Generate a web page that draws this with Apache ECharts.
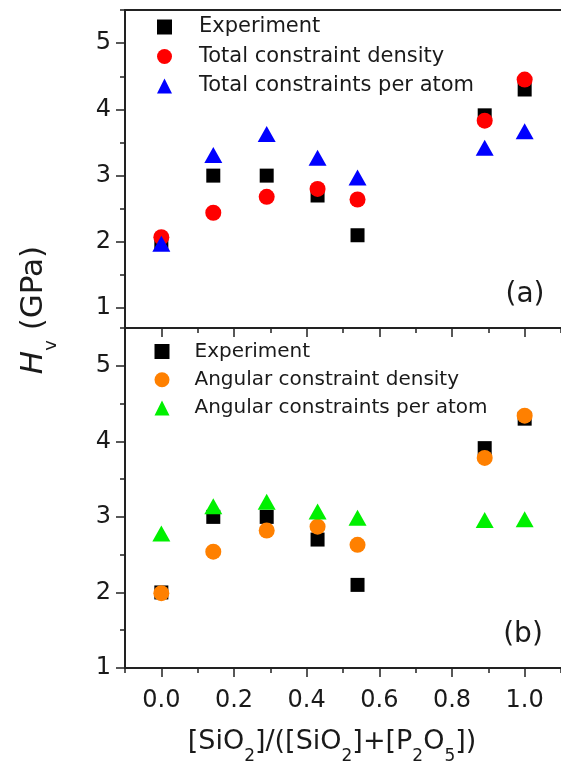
<!DOCTYPE html>
<html lang="en">
<head>
    <meta charset="utf-8">
    <meta name="viewport" content="width=device-width, initial-scale=1"/>
</head>
<body style="margin:0;">
<div id="chart" style="width:561px; height:763px;"></div>
<script type="text/javascript" src="https://cdn.jsdelivr.net/npm/echarts@6/dist/echarts.min.js"></script>
<script type="text/javascript">

    // composition [SiO2]/([SiO2]+[P2O5])
    var xVals = [0, 0.143, 0.29, 0.43, 0.54, 0.89, 1.0];
    // hardness Hv (GPa)
    var experiment = [2.0, 3.0, 3.0, 2.7, 2.1, 3.91, 4.3];
    var totalDensity = [2.07, 2.44, 2.68, 2.8, 2.64, 3.83, 4.45];
    var totalPerAtom = [1.97, 3.31, 3.63, 3.27, 2.97, 3.42, 3.67];
    var angularDensity = [1.99, 2.54, 2.82, 2.87, 2.63, 3.78, 4.34];
    var angularPerAtom = [2.78, 3.14, 3.2, 3.07, 2.99, 2.96, 2.97];

    // major tick values
    var xTickVals = [0, 0.2, 0.4, 0.6, 0.8, 1.0];
    var yTickVals = [1, 2, 3, 4, 5];

    var legendA = ['Experiment', 'Total constraint density', 'Total constraints per atom'];
    var legendB = ['Experiment ', 'Angular constraint density', 'Angular constraints per atom'];

    var FONT = 'DejaVu Sans';
    var INK = '#1a1a1a';

    function pairs(ys) {
        return xVals.map(function (x, i) { return [x, ys[i]]; });
    }

    function tick(len, values) {
        var t = {show: true, length: len, lineStyle: {color: '#222', width: 1.5}};
        if (values) t.customValues = values;
        return t;
    }
    function axLine() {
        return {show: true, onZero: false, lineStyle: {color: '#222', width: 2}};
    }

    // axes that draw the frame line, labels and major ticks
    function xMain(grid, showLabel) {
        return {
            type: 'value', gridIndex: grid, min: -0.1, max: 1.1,
            axisLine: axLine(), axisTick: tick(9, xTickVals),
            axisLabel: {
                show: showLabel, margin: 21, fontSize: 24, fontFamily: FONT, color: INK,
                customValues: xTickVals,
                formatter: function (v) { return v.toFixed(1); }
            },
            splitLine: {show: false}
        };
    }
    function yMain(grid, min) {
        return {
            type: 'value', gridIndex: grid, min: min, max: 5.5,
            axisLine: axLine(), axisTick: tick(9, yTickVals),
            axisLabel: {
                margin: 14, fontSize: 24, fontFamily: FONT, color: INK,
                customValues: yTickVals,
                formatter: function (v) { return String(v); }
            },
            splitLine: {show: false}
        };
    }
    // axes that only carry the minor ticks
    function xTicks(grid) {
        return {
            type: 'value', gridIndex: grid, min: -0.1, max: 1.1, splitNumber: 12,
            axisLine: {show: false, onZero: false}, axisTick: tick(5),
            axisLabel: {show: false}, splitLine: {show: false}
        };
    }
    function yTicks(grid, min, split) {
        return {
            type: 'value', gridIndex: grid, min: min, max: 5.5, splitNumber: split,
            axisLine: {show: false, onZero: false}, axisTick: tick(5),
            axisLabel: {show: false}, splitLine: {show: false}
        };
    }

    function scatter(name, ys, xi, yi, symbol, size, color) {
        return {
            name: name, type: 'scatter', xAxisIndex: xi, yAxisIndex: yi,
            symbol: symbol, symbolSize: size,
            itemStyle: {color: color, opacity: 1},
            data: pairs(ys)
        };
    }

    function legend(names, left, top, size, gap, pad) {
        return {
            data: names, orient: 'vertical', left: left, top: top, padding: 0,
            itemWidth: 15, itemHeight: 15, itemGap: gap,
            textStyle: {fontSize: size, lineHeight: size, fontFamily: FONT, color: INK, padding: [0, 0, 0, pad]}
        };
    }

    var topRect = {left: 125, top: 10, width: 438, height: 318};
    var bottomRect = {left: 125, top: 328, width: 438, height: 340};

    var option = {
        backgroundColor: '#fff',
        animation: false,
        // 0,1 data panels; 2,3 minor ticks on the same rects
        grid: [topRect, bottomRect, topRect, bottomRect],
        xAxis: [
            xMain(0, false),
            {type: 'value', gridIndex: 0, position: 'top', min: -0.1, max: 1.1,
                axisLine: axLine(), axisTick: {show: false}, axisLabel: {show: false}, splitLine: {show: false}},
            xMain(1, true),
            xTicks(2),
            xTicks(3)
        ],
        yAxis: [
            yMain(0, 0.7),
            yMain(1, 1),
            yTicks(2, 0.7, 10),
            yTicks(3, 1, 9)
        ],
        legend: [
            legend(legendA, 157, 16.5, 21, 8.5, 22),
            legend(legendB, 154.5, 341.5, 20, 8.3, 20)
        ],
        series: [
            scatter(legendA[0], experiment, 0, 0, 'rect', 14, '#000'),
            scatter(legendA[1], totalDensity, 0, 0, 'circle', 16, '#ff0000'),
            scatter(legendA[2], totalPerAtom, 0, 0, 'triangle', [18, 16], '#0000ff'),
            scatter(legendB[0], experiment, 2, 1, 'rect', 14, '#000'),
            scatter(legendB[1], angularDensity, 2, 1, 'circle', 16, '#ff8000'),
            scatter(legendB[2], angularPerAtom, 2, 1, 'triangle', [18, 16], '#00f000')
        ],
        graphic: [
            {type: 'text', x: 525, y: 295,
                style: {text: '(a)', font: '28px "DejaVu Sans"', fill: INK, align: 'center', verticalAlign: 'middle'}},
            {type: 'text', x: 523, y: 635,
                style: {text: '(b)', font: '28px "DejaVu Sans"', fill: INK, align: 'center', verticalAlign: 'middle'}},
            {type: 'text', x: 39.5, y: 310, rotation: Math.PI / 2,
                style: {
                    text: '{i|H}{s|v}{n| (GPa)}', align: 'center', verticalAlign: 'middle', fill: INK,
                    rich: {
                        i: {fontSize: 31, fontStyle: 'italic', fontFamily: FONT, verticalAlign: 'top', fill: INK},
                        s: {fontSize: 18, fontFamily: FONT, verticalAlign: 'top', padding: [24, 0, 0, 0], fill: INK},
                        n: {fontSize: 31, fontFamily: FONT, verticalAlign: 'top', fill: INK}
                    }
                }},
            {type: 'text', x: 332, y: 747,
                style: {
                    text: '{n|[SiO}{s|2}{n|]/([SiO}{s|2}{n|]+[P}{s|2}{n|O}{s|5}{n|])}',
                    align: 'center', verticalAlign: 'middle', fill: INK,
                    rich: {
                        n: {fontSize: 27, fontFamily: FONT, verticalAlign: 'top', fill: INK},
                        s: {fontSize: 17, fontFamily: FONT, verticalAlign: 'top', padding: [20, 0, 0, 0], fill: INK}
                    }
                }}
        ]
    };

    var myChart = echarts.init(document.getElementById('chart'));
    myChart.setOption(option);

</script>
</body>
</html>
